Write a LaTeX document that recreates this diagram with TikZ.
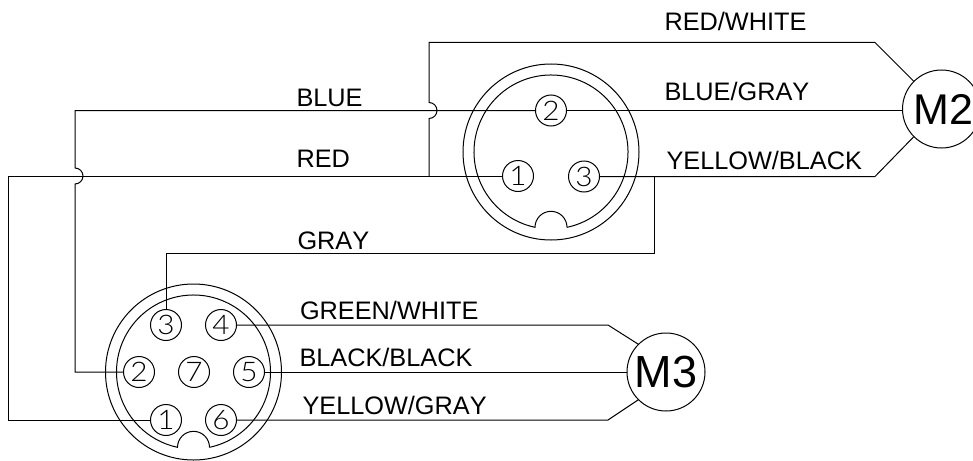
\documentclass[tikz,border=0pt]{standalone}
\usepackage{fontspec}
\setmainfont[Kerning=Off]{Liberation Sans}
\newfontfamily\pinfont[FakeStretch=1.1]{Lato Light}

\begin{document}
\begin{tikzpicture}[x=1pt,y=-1pt,line width=1pt]
		\tikzset{pin/.style={shape = circle, draw, inner sep = 0pt, minimum size = 31pt, font = \fontsize{27}{27}\pinfont}}
		\tikzset{motor/.style={shape = circle, draw, inner sep = 0pt, minimum size = 78pt, font = \fontsize{45}{45}\selectfont}}
		\tikzset{wire/.style={anchor = base west, inner sep = 0pt, font = \fontsize{25.3}{25.3}\selectfont}}
		\useasboundingbox (0, 0) rectangle (973, 460);
		%upper plug
		\draw (551, 152) circle (88);
		\draw (551, 152) ++(78:77) arc (78:-258:77) arc (180:360:16);
		%lower plug
		\draw (193.5, 372) circle (88);
		\draw (193.5, 372) ++(78:77) arc (78:-258:77) arc (180:360:16);
		%upper pins
		\node[pin] (a2) at (551, 110.5) {2};
		\node[pin] (a1) at (518, 176) {1};
		\node[pin] (a3) at (584, 176.5) {3};
		%lower pins
		\node[pin] (b3) at (166, 325) {3};
		\node[pin] (b4) at (221, 325) {4};
		\node[pin] (b2) at (139, 372) {2};
		\node[pin] (b7) at (194, 372) {7};
		\node[pin] (b5) at (249, 372) {5};
		\node[pin] (b1) at (166, 420) {1};
		\node[pin] (b6) at (221, 420) {6};
		%motors
		\node[motor] (m2) at (941.5, 109) {\hspace{4pt}\fontsize{43}{43}\selectfont M2};
		\node[motor] (m3) at (666, 372) {M3};
		%bends
		\coordinate (redup) at (429, 176);
		\coordinate (redtop) at (429, 42.5);
		\coordinate (redbend) at (875, 42.5);
		\coordinate (yelbend) at (875, 176.5);
		\coordinate (graytop) at (654, 176.5);
		\coordinate (graylow) at (654, 253);
		\coordinate (grayleft) at (166, 253);
		\coordinate (greenbend) at (608, 325);
		\coordinate (yelgraybend) at (608, 420);
		%edges
		\draw (a2.west) -- (75, 110.5) -- (75, 168) arc (-90:90:8) -- (75, 372) -- (b2.west);
		\draw (a1.west) -- (8, 176) -- (8, 420) -- (b1.west);
		\draw (redup) -- (429, 118.5) arc (90:-90:8) -- (redtop) -- (redbend) -- (m2.135);
		\path (a2.east) edge (m2.west |- a2.east);
		\draw (a3.east) -- (yelbend) -- (m2.225);
		\draw (graytop) -- (graylow) -- (grayleft) -- (b3.north);
		\draw (b4.east) -- (greenbend) -- (m3.135);
		\path (b5.east) edge (m3.west);
		\draw (b6.east) -- (yelgraybend) -- (m3.225);
		%labels
		\node[wire] (lblredwhite) at (664, 31) {RED/WHITE};
		\node[wire] (lblbluegray) at (664, 100.5) {BLUE/GRAY};
		\node[wire] (lblyellowblack) at (666, 169) {YELLOW/BLACK};
		\node[wire] (lblblue) at (296, 106) {BLUE};
		\node[wire] (lblred) at (296, 167.5) {RED};
		\node[wire] (lblgray) at (297, 249) {GRAY};
		\node[wire] (lblgreenwhite) at (299.5, 319) {GREEN/WHITE};
		\node[wire] (lblblackblack) at (299, 366.5) {BLACK/BLACK};
		\node[wire] (lblyellowgray) at (302, 414) {YELLOW/GRAY};
		\end{tikzpicture}
\end{document}
